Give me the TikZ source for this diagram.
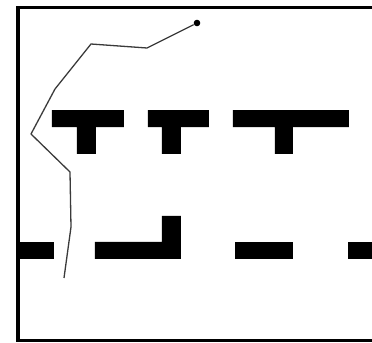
\documentclass[tikz,border=0pt]{standalone}
\definecolor{MapWall}{HTML}{000000}
\definecolor{MapPath}{HTML}{3A3A3A}

\begin{document}
\begin{tikzpicture}[x=0.5pt,y=-0.5pt,line cap=butt,line join=miter]
  \useasboundingbox (0,0) rectangle (372,343);
  % outer wall, open on the right
  \draw[MapWall,line width=1.8pt] (372,7.5) -- (18,7.5) -- (18,340.5) -- (372,340.5);
  % upper row of T blocks
  \fill[MapWall] (52,110) rectangle (124,127) (77,127) rectangle (96,154);
  \fill[MapWall] (148,110) rectangle (209,127) (162,127) rectangle (181,154);
  \fill[MapWall] (233,110) rectangle (349,127) (275,127) rectangle (293,154);
  % lower row of wall pieces
  \fill[MapWall] (18,242) rectangle (54,259);
  \fill[MapWall] (95,242) rectangle (181,259) (162,216) rectangle (181,242);
  \fill[MapWall] (235,242) rectangle (293,259);
  \fill[MapWall] (348,242) rectangle (372,259);
  % robot track
  \node[fill=MapWall,circle,inner sep=0pt,minimum size=3.3pt] (start) at (197,23) {};
  \coordinate (finish) at (64,278);
  \draw[MapPath,line width=0.65pt,line join=round] (start) -- (147,48) -- (91,44) -- (55,89)
    -- (31,134) -- (70,172) -- (71,227) -- (finish);
\end{tikzpicture}
\end{document}
